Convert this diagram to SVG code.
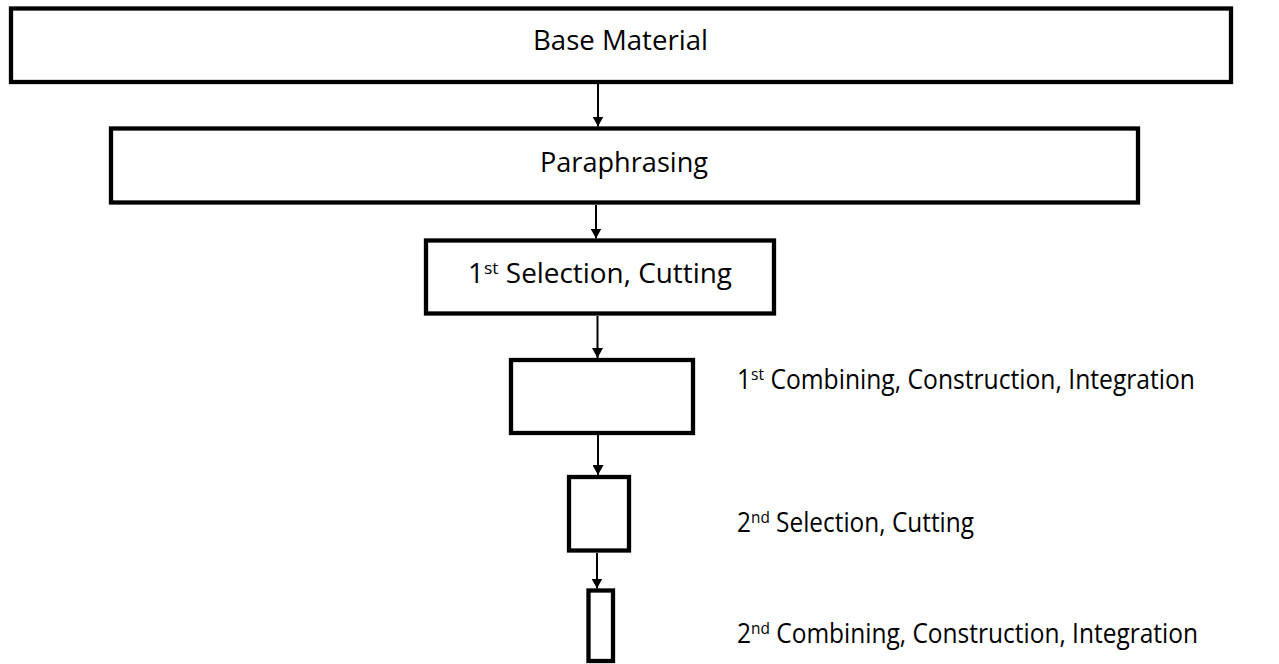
<svg xmlns="http://www.w3.org/2000/svg" width="1279" height="664" viewBox="0 0 1279 664">
<defs>
<style>
.box{fill:#fff;stroke:#000;stroke-width:4.3}
.t{font-family:"Open Sans","Noto Sans","Liberation Sans",sans-serif;font-size:27px;fill:#000}
.m{text-anchor:middle}
.sup{font-size:17px}
.c{stroke:#000;stroke-width:2;fill:none}
</style>
<marker id="ah" markerUnits="userSpaceOnUse" markerWidth="10" markerHeight="11" viewBox="0 0 10 11" refX="10" refY="5.5" orient="auto">
<path d="M0,0 L10,5.5 L0,11 z" fill="#000"/>
</marker>
</defs>
<rect width="1279" height="664" fill="#fff"/>
<g id="connectors">
<line class="c" x1="598" y1="84" x2="598" y2="126.5" marker-end="url(#ah)"/>
<line class="c" x1="596" y1="205" x2="596" y2="238.5" marker-end="url(#ah)"/>
<line class="c" x1="597.5" y1="316" x2="597.5" y2="358" marker-end="url(#ah)"/>
<line class="c" x1="598" y1="435" x2="598" y2="475" marker-end="url(#ah)"/>
<line class="c" x1="597" y1="553" x2="597" y2="588.5" marker-end="url(#ah)"/>
</g>
<g id="base-material"><rect class="box" x="11" y="8.5" width="1220" height="73.5"/><text class="t" x="533" y="50" textLength="175" lengthAdjust="spacingAndGlyphs">Base Material</text></g>
<g id="paraphrasing"><rect class="box" x="111" y="128.5" width="1027" height="74"/><text class="t" x="540" y="172" textLength="168" lengthAdjust="spacingAndGlyphs">Paraphrasing</text></g>
<g id="selection-1"><rect class="box" x="426" y="240.5" width="348" height="73"/><text class="t" x="468" y="283" textLength="264" lengthAdjust="spacingAndGlyphs">1<tspan class="sup" dy="-9">st</tspan><tspan dy="9"> Selection, Cutting</tspan></text></g>
<g id="combining-1"><rect class="box" x="511" y="360" width="182" height="73"/><text class="t" x="737" y="389" textLength="458" lengthAdjust="spacingAndGlyphs">1<tspan class="sup" dy="-9">st</tspan><tspan dy="9"> Combining, Construction, Integration</tspan></text></g>
<g id="selection-2"><rect class="box" x="569" y="477" width="60" height="73.5"/><text class="t" x="737" y="532" textLength="237" lengthAdjust="spacingAndGlyphs">2<tspan class="sup" dy="-9">nd</tspan><tspan dy="9"> Selection, Cutting</tspan></text></g>
<g id="combining-2"><rect class="box" x="588.5" y="590.5" width="24.5" height="70.5"/><text class="t" x="737" y="643" textLength="461" lengthAdjust="spacingAndGlyphs">2<tspan class="sup" dy="-9">nd</tspan><tspan dy="9"> Combining, Construction, Integration</tspan></text></g>
</svg>
